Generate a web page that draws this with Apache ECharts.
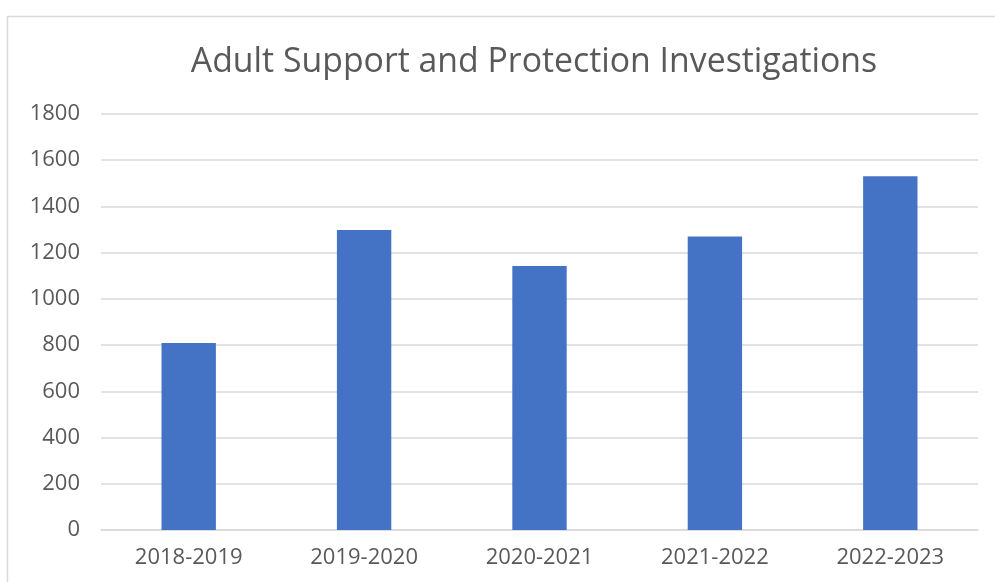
<!DOCTYPE html>
<html><head><meta charset="utf-8">
<script src="https://cdn.jsdelivr.net/npm/echarts@6/dist/echarts.min.js"></script>
<style>html,body{margin:0;padding:0;background:#fff}#c{width:995px;height:582px}</style>
</head><body><div id="c"></div>
<script>
const categories = ['2018-2019','2019-2020','2020-2021','2021-2022','2022-2023'];
const values = [809, 1298, 1142, 1270, 1531];
const titleText = 'Adult Support and Protection Investigations';
const yMin = 0, yMax = 1800, yStep = 200;

const chart = echarts.init(document.getElementById('c'));
chart.setOption({
  animation: false,
  backgroundColor: '#fff',
  graphic: [{type:'rect', shape:{x:7.5,y:16.5,width:1200,height:800}, style:{fill:'none',stroke:'#d9d9d9',lineWidth:1.5}, silent:true}],
  title: {text: titleText, left: 529, top: 40, textAlign: 'center',
    textStyle:{fontFamily:'Open Sans', fontWeight:'normal', fontSize:33.8, color:'#595959'}},
  grid: {left:101, right:17, top:114, bottom:52, containLabel:false},
  xAxis: {type:'category', data: categories,
    axisLine:{show:true, lineStyle:{color:'#d9d9d9', width:1.5}},
    axisTick:{show:false},
    axisLabel:{margin:17, fontFamily:'Open Sans', fontSize:22, color:'#595959'}},
  yAxis: {type:'value', min:yMin, max:yMax, interval:yStep,
    axisLine:{show:false}, axisTick:{show:false},
    splitLine:{lineStyle:{color:'#d9d9d9', width:1.5}},
    axisLabel:{margin:21, fontFamily:'Open Sans', fontSize:22, color:'#595959', formatter: v => String(v)}},
  series: [{type:'bar', data: values, barWidth:'31%', itemStyle:{color:'#4472c4'}}]
});
</script></body></html>
